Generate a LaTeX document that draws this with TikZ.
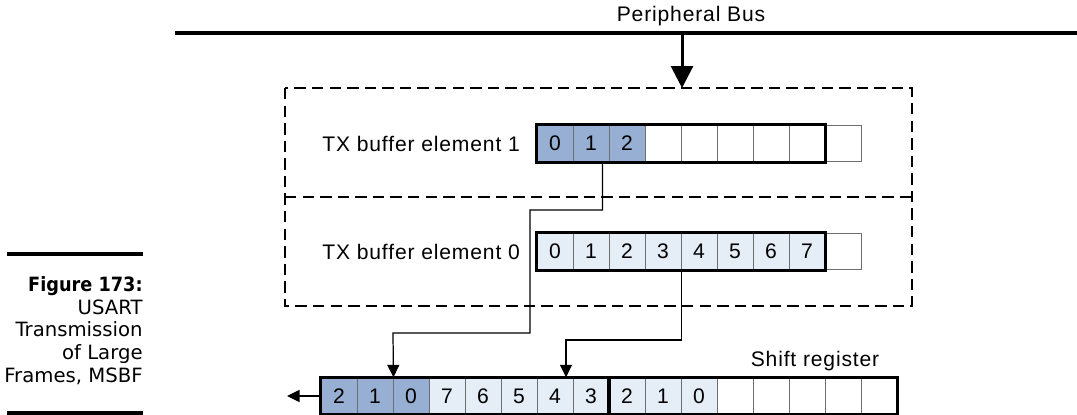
\documentclass[tikz,border=0pt]{standalone}
\usepackage{fontspec}
\setmainfont{Liberation Sans}[LetterSpace=4]
\newfontfamily\capfont{DejaVu Sans}
\newfontfamily\capboldfont{DejaVu Sans}[FakeStretch=0.9]
\usetikzlibrary{arrows.meta,positioning,calc}
\definecolor{regblue}{RGB}{150,175,210}
\definecolor{regpale}{RGB}{229,237,247}
\definecolor{cellline}{RGB}{110,110,110}

\begin{document}
\begin{tikzpicture}[x=0.02cm, y=-0.02cm,
  cell/.style={draw=cellline, line width=0.5pt, minimum width=0.72cm,
    minimum height=0.73cm, inner sep=0pt, font=\fontsize{12}{14}\selectfont},
  frame/.style={draw=black, line width=1.6pt},
  link/.style={-{Triangle[length=2.5mm,width=2.4mm]}, line width=0.7pt},
  lbl/.style={font=\fontsize{12}{14}\selectfont},
  rule/.style={line width=2.3pt},
  boxline/.style={dash pattern=on 6.5pt off 3.5pt, line width=0.8pt}
]
\useasboundingbox (0,0) rectangle (1077,415);

% bus and tap
\coordinate (busL) at (175,33);
\coordinate (busR) at (1077,33);
\coordinate (bustap) at (682,33);
\coordinate (boxtop) at (682,88);
\draw[line width=2.3pt] (busL) -- (busR);
\node[lbl] (bus) at (691,16) {Peripheral Bus};
\draw[-{Triangle[length=4.4mm,width=4.4mm]}, line width=1.7pt] (bustap) -- (boxtop);

% TX buffer
\draw[boxline] (285,88) rectangle (912,306);
\draw[boxline] (285,197) -- (912,197);

\foreach \i/\t/\c in {0/0/regblue,1/1/regblue,2/2/regblue,3//white,4//white,
    5//white,6//white,7//white,8//white}
  \node[cell, fill=\c] (b1c\i) at (555+36*\i,143.5) {\t};
\foreach \i/\t/\c in {0/0/regpale,1/1/regpale,2/2/regpale,3/3/regpale,4/4/regpale,
    5/5/regpale,6/6/regpale,7/7/regpale,8//white}
  \node[cell, fill=\c] (b0c\i) at (555+36*\i,251.5) {\t};
\draw[frame] (b1c0.north west) rectangle (b1c7.south east);
\draw[frame] (b0c0.north west) rectangle (b0c7.south east);

\node[lbl, left=6pt of b1c0] (el1) {TX buffer element 1};
\node[lbl, left=6pt of b0c0] (el0) {TX buffer element 0};

% shift register
\foreach \i/\t/\c in {0/2/regblue,1/1/regblue,2/0/regblue,3/7/regpale,4/6/regpale,
    5/5/regpale,6/4/regpale,7/3/regpale,8/2/regpale,9/1/regpale,10/0/regpale,
    11//white,12//white,13//white,14//white,15//white}
  \node[cell, fill=\c] (s\i) at (339+36*\i,396) {\t};
\draw[frame] (s0.north west) rectangle (s7.south east);
\draw[frame] (s8.north west) rectangle (s15.south east);
\node[lbl] (shift) at (815,361) {Shift register};

% connectors
\coordinate (k1) at (530,210);
\coordinate (k2) at (393,333);
\coordinate (k3) at (566,340);
\coordinate (out) at (287,396);
\draw[link] (b1c1.south east) ++(-7,0) |- (k1) |- (k2) -- (s1.north east);
\draw[link] (b0c3.south east) |- (k3) -- (k3 |- s6.north);
\draw[link] (s0.west) -- (out);

% caption
\draw[rule] (7,254) -- (143,254);
\draw[rule] (7,413) -- (143,413);
\node[anchor=north east, align=right, inner sep=0pt,
  font=\capfont\fontsize{11.2}{13}\selectfont] (cap) at (143,276)
  {{\capboldfont\bfseries Figure 173:}\\USART\\Transmission\\of Large\\Frames, MSBF};
\end{tikzpicture}
\end{document}
